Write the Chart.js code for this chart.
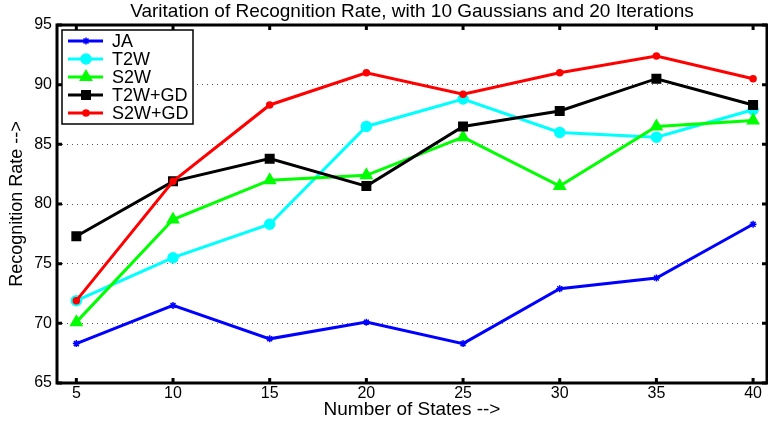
<!DOCTYPE html>
<html>
<head>
<meta charset="utf-8">
<script src="https://cdn.jsdelivr.net/npm/chart.js@4.4.1/dist/chart.umd.min.js"></script>
<style>
  html, body { margin: 0; padding: 0; background: #fff; }
  #wrap { width: 768px; height: 421px; }
</style>
</head>
<body>
<div id="wrap"><canvas id="c" width="768" height="421"></canvas></div>
<script>
const categories = [5, 10, 15, 20, 25, 30, 35, 40];
const seriesNames = ['JA', 'T2W', 'S2W', 'T2W+GD', 'S2W+GD'];
const ja     = [68.3, 71.5, 68.7, 70.1, 68.3, 72.9, 73.8, 78.3];
const t2w    = [71.9, 75.5, 78.3, 86.5, 88.8, 86.0, 85.6, 87.9];
const s2w    = [70.1, 78.7, 82.0, 82.4, 85.6, 81.5, 86.5, 87.0];
const t2wgd  = [77.3, 81.9, 83.8, 81.5, 86.5, 87.8, 90.5, 88.3];
const s2wgd  = [71.9, 81.9, 88.3, 91.0, 89.2, 91.0, 92.4, 90.5];
const xTickValues = [5, 10, 15, 20, 25, 30, 35, 40];
const yTickValues = [65, 70, 75, 80, 85, 90, 95];

const FONT = "'Liberation Sans', Arial, Helvetica, sans-serif";

function pts(vals) { return categories.map((x, i) => ({ x: x, y: vals[i] })); }

const styles = [
  { color: '#0000ff', pointStyle: 'star',     radius: 3.5, order: 4 },
  { color: '#00ffff', pointStyle: 'circle',   radius: 5,   order: 3 },
  { color: '#00ff00', pointStyle: 'triangle', radius: 6.5, order: 2 },
  { color: '#000000', pointStyle: 'rect',     radius: 6,   order: 1 },
  { color: '#ff0000', pointStyle: 'circle',   radius: 3,   order: 0 }
];
const allValues = [ja, t2w, s2w, t2wgd, s2wgd];

const datasets = allValues.map((vals, i) => ({
  label: seriesNames[i],
  data: pts(vals),
  borderColor: styles[i].color,
  backgroundColor: styles[i].color,
  pointBackgroundColor: styles[i].color,
  pointBorderColor: styles[i].color,
  pointStyle: styles[i].pointStyle,
  pointRadius: styles[i].radius,
  pointBorderWidth: 1.5,
  borderWidth: 3,
  tension: 0,
  fill: false,
  clip: false,
  order: styles[i].order
}));

// Frame with inward ticks (MATLAB-style box)
const framePlugin = {
  id: 'frame',
  afterDatasetsDraw(chart) {
    const { ctx, chartArea: a, scales } = chart;
    ctx.save();
    ctx.strokeStyle = '#000';
    ctx.lineWidth = 3;
    ctx.strokeRect(a.left, a.top, a.right - a.left, a.bottom - a.top);
    ctx.beginPath();
    yTickValues.forEach(v => {
      const y = scales.y.getPixelForValue(v);
      ctx.moveTo(a.left, y); ctx.lineTo(a.left + 5, y);
      ctx.moveTo(a.right, y); ctx.lineTo(a.right - 5, y);
    });
    xTickValues.forEach(v => {
      const x = scales.x.getPixelForValue(v);
      ctx.moveTo(x, a.bottom); ctx.lineTo(x, a.bottom - 5);
      ctx.moveTo(x, a.top); ctx.lineTo(x, a.top + 5);
    });
    ctx.stroke();
    ctx.restore();
  }
};

// Legend box in the upper-left of the plot (MATLAB-style)
const legendPlugin = {
  id: 'boxLegend',
  afterDraw(chart) {
    const { ctx } = chart;
    const bx = 62, by = 30, bw = 131, bh = 94;
    ctx.save();
    ctx.fillStyle = '#fff';
    ctx.fillRect(bx, by, bw, bh);
    ctx.strokeStyle = '#000';
    ctx.lineWidth = 1.5;
    ctx.strokeRect(bx, by, bw, bh);
    ctx.font = '18px ' + FONT;
    ctx.textBaseline = 'middle';
    ctx.textAlign = 'left';
    chart.data.datasets.forEach((ds, i) => {
      const y = 41 + i * 18;
      ctx.strokeStyle = ds.borderColor;
      ctx.lineWidth = 3;
      ctx.beginPath();
      ctx.moveTo(68, y); ctx.lineTo(103, y);
      ctx.stroke();
      ctx.fillStyle = ds.pointBackgroundColor;
      ctx.strokeStyle = ds.pointBorderColor;
      ctx.lineWidth = 1.5;
      Chart.helpers.drawPoint(ctx, { pointStyle: ds.pointStyle, radius: ds.pointRadius, rotation: 0, borderWidth: 1.5 }, 86, y);
      ctx.fillStyle = '#000';
      ctx.fillText(ds.label, 112, y + 1);
    });
    ctx.restore();
  }
};

new Chart(document.getElementById('c'), {
  type: 'line',
  data: { datasets: datasets },
  options: {
    responsive: false,
    animation: false,
    devicePixelRatio: 1,
    layout: { autoPadding: false, padding: { left: 0, right: 1, top: 0, bottom: 0 } },
    plugins: {
      legend: { display: false },
      tooltip: { enabled: false },
      title: {
        display: true,
        fullSize: false,
        text: 'Varitation of Recognition Rate, with 10 Gaussians and 20 Iterations',
        color: '#000',
        font: { family: FONT, size: 19, weight: 'normal' },
        padding: { top: 0, bottom: 2.2 }
      }
    },
    scales: {
      x: {
        type: 'linear',
        min: 4,
        max: 40.72,
        afterBuildTicks(scale) { scale.ticks = xTickValues.map(v => ({ value: v })); },
        afterFit(scale) { scale.height = 38; scale.paddingRight = 0; scale.paddingLeft = 0; },
        grid: { display: false, drawTicks: false },
        border: { display: false },
        ticks: {
          color: '#000',
          font: { family: FONT, size: 16 },
          padding: 1,
          maxRotation: 0,
          autoSkip: false
        },
        title: {
          display: true,
          text: 'Number of States -->',
          color: '#000',
          font: { family: FONT, size: 19 },
          padding: { top: 0, bottom: 0 }
        }
      },
      y: {
        min: 65,
        max: 95,
        afterBuildTicks(scale) { scale.ticks = yTickValues.map(v => ({ value: v })); },
        afterFit(scale) { scale.width = 57; scale.paddingTop = 0; scale.paddingBottom = 0; },
        grid: {
          drawTicks: false,
          color: ctx => (ctx.tick && (ctx.tick.value === 65 || ctx.tick.value === 95)) ? 'rgba(0,0,0,0)' : '#555',
          lineWidth: 1
        },
        border: { display: false, dash: [1, 4] },
        ticks: {
          color: '#000',
          font: { family: FONT, size: 16 },
          padding: 5,
          autoSkip: false
        },
        title: {
          display: true,
          text: 'Recognition Rate -->',
          color: '#000',
          font: { family: FONT, size: 18 },
          padding: { top: 6, bottom: 0 }
        }
      }
    }
  },
  plugins: [framePlugin, legendPlugin]
});
</script>
</body>
</html>
